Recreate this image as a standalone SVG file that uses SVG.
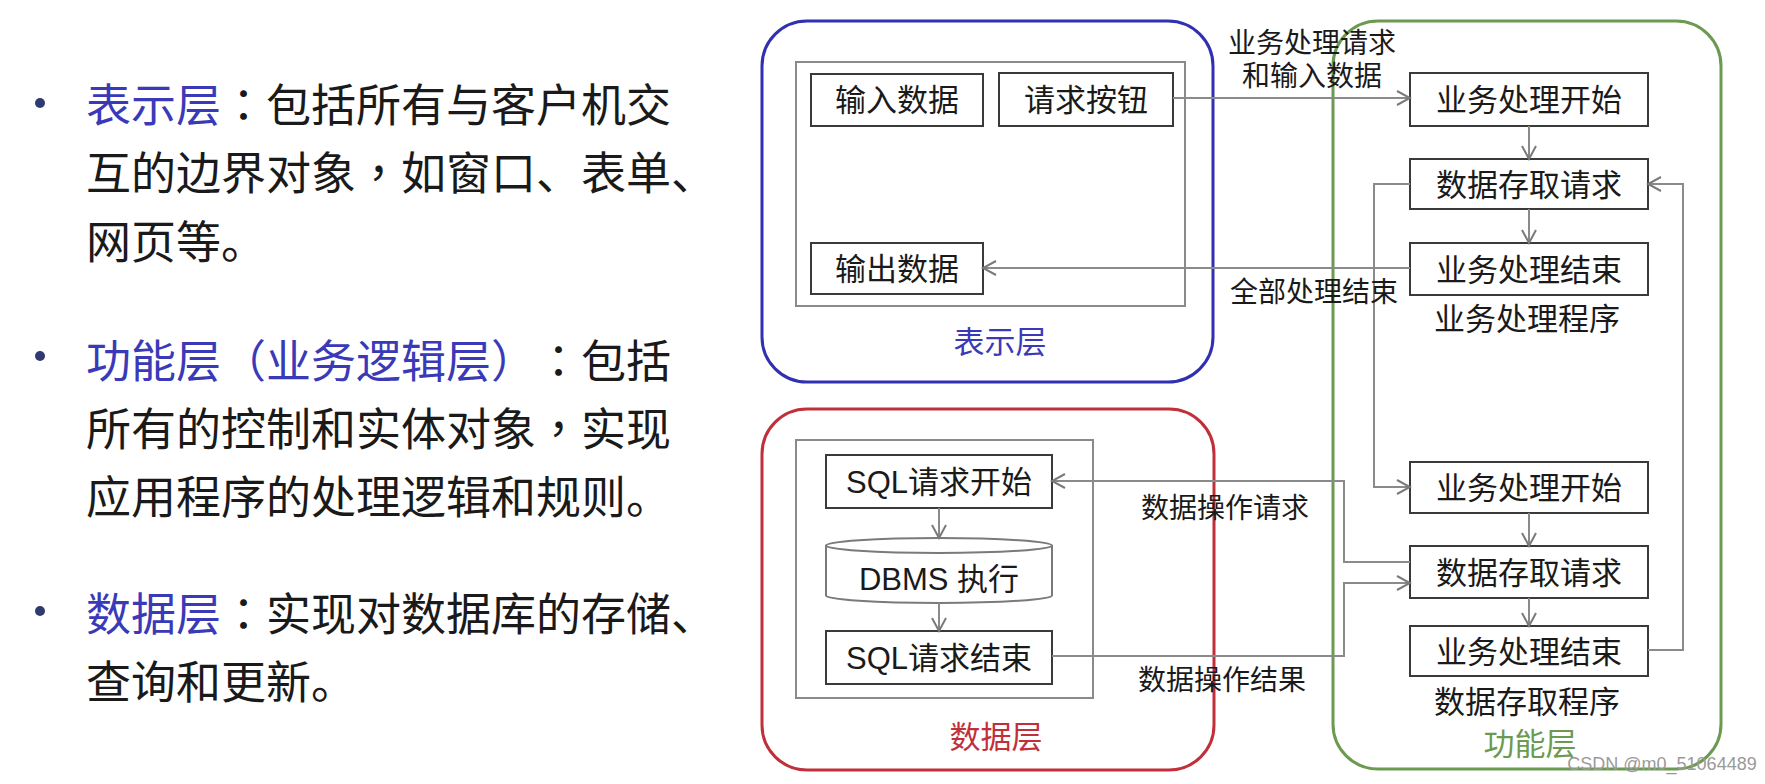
<svg xmlns="http://www.w3.org/2000/svg" width="1765" height="784" viewBox="0 0 1765 784">
<style>
text{font-family:"Liberation Sans","Noto Sans CJK SC",sans-serif;text-spacing-trim:space-all;}
.left{font-size:45px;fill:#1a1a1a;}
.hl{fill:#3a3ab8;}
.p{font-family:"Noto Sans CJK TC",sans-serif;}
.box{fill:#fff;stroke:#3a3a3a;stroke-width:2;}
.inner{fill:none;stroke:#8a8a8a;stroke-width:2;}
.bt{font-size:31px;fill:#1a1a1a;text-anchor:middle;}
.lbl{font-size:28px;fill:#1a1a1a;text-anchor:middle;}
.conn{fill:none;stroke:#8a8a8a;stroke-width:2;marker-end:url(#arr);}
.bullet{fill:#2e3a70;}
</style>
<defs>
<marker id="arr" markerUnits="userSpaceOnUse" markerWidth="16" markerHeight="18" refX="14" refY="8" orient="auto">
<path d="M1,1 L14,8 L1,15" fill="none" stroke="#7a7a7a" stroke-width="2"/>
</marker>
</defs>
<rect width="1765" height="784" fill="#ffffff"/>

<g id="description">
<circle class="bullet" cx="40" cy="103" r="5"/>
<text class="left" x="86" y="122"><tspan class="hl">表示层</tspan><tspan class="p">：</tspan>包括所有与客户机交</text>
<text class="left" x="86" y="190">互的边界对象<tspan class="p">，</tspan>如窗口、表单、</text>
<text class="left" x="86" y="259">网页等。</text>
<circle class="bullet" cx="40" cy="356" r="5"/>
<text class="left" x="86" y="378"><tspan class="hl">功能层<tspan class="p">（</tspan>业务逻辑层<tspan class="p">）</tspan></tspan><tspan class="p">：</tspan>包括</text>
<text class="left" x="86" y="446">所有的控制和实体对象<tspan class="p">，</tspan>实现</text>
<text class="left" x="86" y="514">应用程序的处理逻辑和规则。</text>
<circle class="bullet" cx="40" cy="611" r="5"/>
<text class="left" x="86" y="631"><tspan class="hl">数据层</tspan><tspan class="p">：</tspan>实现对数据库的存储、</text>
<text class="left" x="86" y="699">查询和更新。</text>
</g>

<g id="presentation-layer">
<rect x="762" y="21" width="451" height="361" rx="45" fill="none" stroke="#3030b0" stroke-width="3"/>
<rect class="inner" x="796" y="62" width="389" height="244"/>
<text x="1000" y="353" font-size="31" fill="#3a3ab8" text-anchor="middle">表示层</text>
</g>
<g id="input-data"><rect class="box" x="811" y="74" width="172" height="52"/><text class="bt" x="897" y="111">输入数据</text></g>
<g id="request-button"><rect class="box" x="999" y="73" width="174" height="53"/><text class="bt" x="1086" y="111">请求按钮</text></g>
<g id="output-data"><rect class="box" x="811" y="243" width="172" height="51"/><text class="bt" x="897" y="280">输出数据</text></g>

<g id="data-layer">
<rect x="762" y="409" width="452" height="361" rx="45" fill="none" stroke="#c0303a" stroke-width="3"/>
<rect class="inner" x="796" y="440" width="297" height="258"/>
<text x="996" y="748" font-size="31" fill="#c0303a" text-anchor="middle">数据层</text>
</g>
<g id="sql-start"><rect class="box" x="826" y="455" width="226" height="53"/><text class="bt" x="939" y="493">SQL请求开始</text></g>
<g id="dbms">
<path d="M826,545.5 A113,7.5 0 0 1 1052,545.5 V595.5 A113,7.5 0 0 1 826,595.5 Z" fill="#fff" stroke="#7a7a7a" stroke-width="2"/>
<path d="M826,545.5 A113,7.5 0 0 0 1052,545.5" fill="none" stroke="#7a7a7a" stroke-width="2"/>
<text class="bt" x="939" y="590">DBMS 执行</text>
</g>
<g id="sql-end"><rect class="box" x="826" y="631" width="226" height="53"/><text class="bt" x="939" y="669">SQL请求结束</text></g>

<g id="function-layer">
<rect x="1333" y="21" width="388" height="748" rx="45" fill="none" stroke="#6b9a50" stroke-width="3"/>
<text x="1527" y="330" font-size="31" fill="#1a1a1a" text-anchor="middle">业务处理程序</text>
<text x="1527" y="713" font-size="31" fill="#1a1a1a" text-anchor="middle">数据存取程序</text>
<text x="1530" y="755" font-size="31" fill="#6b9a50" text-anchor="middle">功能层</text>
</g>
<g id="biz-start-1"><rect class="box" x="1410" y="73" width="238" height="53"/><text class="bt" x="1529" y="111">业务处理开始</text></g>
<g id="data-access-req-1"><rect class="box" x="1410" y="159" width="238" height="50"/><text class="bt" x="1529" y="196">数据存取请求</text></g>
<g id="biz-end-1"><rect class="box" x="1410" y="243" width="238" height="52"/><text class="bt" x="1529" y="281">业务处理结束</text></g>
<g id="biz-start-2"><rect class="box" x="1410" y="462" width="238" height="51"/><text class="bt" x="1529" y="499">业务处理开始</text></g>
<g id="data-access-req-2"><rect class="box" x="1410" y="546" width="238" height="52"/><text class="bt" x="1529" y="584">数据存取请求</text></g>
<g id="biz-end-2"><rect class="box" x="1410" y="626" width="238" height="50"/><text class="bt" x="1529" y="663">业务处理结束</text></g>

<g id="connectors">
<path class="conn" d="M1173,98 H1410"/>
<path class="conn" d="M1529,126 V159"/>
<path class="conn" d="M1529,209 V243"/>
<path class="conn" d="M1410,268 H983"/>
<path class="conn" d="M1410,184 H1374 V487 H1410"/>
<path class="conn" d="M1529,513 V546"/>
<path class="conn" d="M1529,598 V626"/>
<path class="conn" d="M1648,650 H1683 V184 H1648"/>
<path class="conn" d="M1410,562 H1344 V481 H1052"/>
<path class="conn" d="M939,508 V538"/>
<path class="conn" d="M939,603 V631"/>
<path class="conn" d="M1052,656 H1344 V583 H1410"/>
<text class="lbl" x="1312" y="53">业务处理请求</text>
<text class="lbl" x="1312" y="86">和输入数据</text>
<text class="lbl" x="1314" y="302">全部处理结束</text>
<text class="lbl" x="1225" y="518">数据操作请求</text>
<text class="lbl" x="1222" y="690">数据操作结果</text>
</g>

<text x="1662" y="770" font-size="18" fill="#9a9a9a" text-anchor="middle">CSDN @m0_51064489</text>
</svg>
